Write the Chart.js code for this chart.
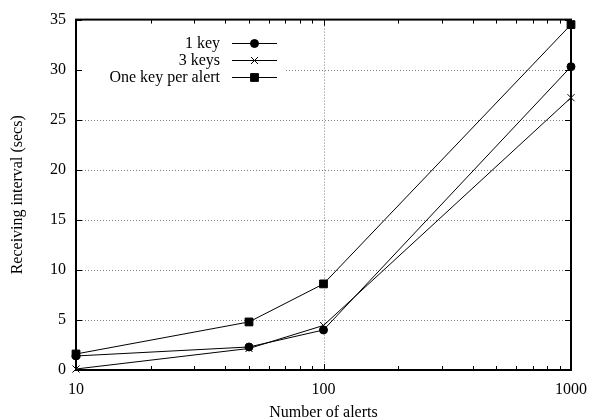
<!DOCTYPE html>
<html>
<head>
<meta charset="utf-8">
<script src="https://cdn.jsdelivr.net/npm/chart.js@4/dist/chart.umd.min.js"></script>
<style>
    html, body { margin: 0; padding: 0; background: #fff; }
    #wrap { width: 597px; height: 420px; }
</style>
</head>
<body>
<div id="wrap"><canvas id="alertChart" width="597" height="420"></canvas></div>
<script>
// Number of alerts (log x axis)
const alertCounts = [10, 50, 100, 1000];

// Receiving interval in seconds
const oneKey = [1.4, 2.3, 4.0, 30.3];
const threeKeys = [0.1, 2.15, 4.45, 27.2];
const keyPerAlert = [1.6, 4.8, 8.6, 34.5];

const seriesLabels = ['1 key', '3 keys', 'One key per alert'];
const xTickLabels = [10, 100, 1000];
const yTickLabels = [0, 5, 10, 15, 20, 25, 30, 35];

const serif = '"Liberation Serif", "DejaVu Serif", serif';

function toPoints(values) {
    return values.map((v, i) => ({ x: alertCounts[i], y: v }));
}

// Dotted grid, inner ticks, frame and gnuplot-like key
const gnuplotDeco = {
    id: 'gnuplotDeco',
    beforeDatasetsDraw(chart) {
        const { ctx, chartArea: a, scales: { x, y } } = chart;
        ctx.save();
        ctx.strokeStyle = '#808080';
        ctx.lineWidth = 1;
        ctx.setLineDash([1, 2]);
        yTickLabels.forEach(v => {
            if (v === 0 || v === 35) return;
            const py = Math.round(y.getPixelForValue(v)) + 0.5;
            ctx.beginPath();
            ctx.moveTo(a.left, py);
            ctx.lineTo(a.right, py);
            ctx.stroke();
        });
        const px = Math.round(x.getPixelForValue(100)) + 0.5;
        ctx.beginPath();
        ctx.moveTo(px, a.top);
        ctx.lineTo(px, a.bottom);
        ctx.stroke();
        ctx.restore();
    },
    afterDraw(chart) {
        const { ctx, chartArea: a, scales: { x, y } } = chart;
        ctx.save();

        // key
        ctx.fillStyle = '#fff';
        ctx.fillRect(a.left + 2, 34, 208, 52);
        ctx.font = '16px ' + serif;
        ctx.textAlign = 'right';
        ctx.textBaseline = 'middle';
        chart.data.datasets.forEach((ds, i) => {
            const ry = 43 + i * 17;
            ctx.fillStyle = '#000';
            ctx.fillText(ds.label, 220, ry + 1);
            ctx.strokeStyle = '#000';
            ctx.lineWidth = 1;
            ctx.beginPath();
            ctx.moveTo(232, ry + 0.5);
            ctx.lineTo(277, ry + 0.5);
            ctx.stroke();
            Chart.helpers.drawPoint(ctx, {
                pointStyle: ds.pointStyle,
                radius: ds.pointRadius,
                borderWidth: ds.pointBorderWidth || 1,
                rotation: 0
            }, 254.5, ry + 0.5);
        });

        // inner ticks
        ctx.strokeStyle = '#000';
        ctx.lineWidth = 1;
        const majors = [10, 100, 1000];
        const minors = [];
        [10, 100].forEach(d => { for (let k = 2; k <= 9; k++) minors.push(d * k); });
        majors.concat(minors).forEach(v => {
            const len = majors.includes(v) ? 6 : 4;
            const px = Math.round(x.getPixelForValue(v)) + 0.5;
            ctx.beginPath();
            ctx.moveTo(px, a.bottom);
            ctx.lineTo(px, a.bottom - len);
            ctx.moveTo(px, a.top);
            ctx.lineTo(px, a.top + len);
            ctx.stroke();
        });
        yTickLabels.forEach(v => {
            const py = Math.round(y.getPixelForValue(v)) + 0.5;
            ctx.beginPath();
            ctx.moveTo(a.left, py);
            ctx.lineTo(a.left + 6, py);
            ctx.moveTo(a.right, py);
            ctx.lineTo(a.right - 6, py);
            ctx.stroke();
        });

        // frame
        ctx.lineWidth = 2;
        ctx.strokeRect(a.left, a.top, a.right - a.left, a.bottom - a.top);
        ctx.restore();
    }
};

const ctx = document.getElementById('alertChart').getContext('2d');
new Chart(ctx, {
    type: 'line',
    data: {
        datasets: [
            {
                label: seriesLabels[0],
                data: toPoints(oneKey),
                pointStyle: 'circle',
                pointRadius: 4
            },
            {
                label: seriesLabels[1],
                data: toPoints(threeKeys),
                pointStyle: 'crossRot',
                pointRadius: 5
            },
            {
                label: seriesLabels[2],
                data: toPoints(keyPerAlert),
                pointStyle: 'rect',
                pointRadius: 5.5
            }
        ].map(ds => Object.assign(ds, {
            borderColor: '#000',
            backgroundColor: '#000',
            borderWidth: 1,
            pointBackgroundColor: '#000',
            pointBorderColor: '#000',
            pointBorderWidth: 1,
            tension: 0,
            fill: false,
            clip: false
        }))
    },
    options: {
        responsive: false,
        animation: false,
        devicePixelRatio: 1,
        layout: { padding: { top: 17, right: 22, left: 0, bottom: 0 } },
        plugins: {
            legend: { display: false },
            tooltip: { enabled: false }
        },
        scales: {
            x: {
                type: 'logarithmic',
                min: 10,
                max: 1000,
                afterBuildTicks: scale => {
                    scale.ticks = xTickLabels.map(v => ({ value: v }));
                },
                afterFit: scale => { scale.height = 50; },
                grid: { display: false, drawTicks: false },
                border: { display: false },
                ticks: {
                    color: '#000',
                    padding: 10,
                    maxRotation: 0,
                    font: { family: serif, size: 16 },
                    callback: v => String(v)
                },
                title: {
                    display: true,
                    text: 'Number of alerts',
                    color: '#000',
                    padding: { top: 0, bottom: -2 },
                    font: { family: serif, size: 16 }
                }
            },
            y: {
                min: 0,
                max: 35,
                afterBuildTicks: scale => {
                    scale.ticks = yTickLabels.map(v => ({ value: v }));
                },
                afterFit: scale => { scale.width = 76; },
                grid: { display: false, drawTicks: false },
                border: { display: false },
                ticks: {
                    color: '#000',
                    padding: 10,
                    font: { family: serif, size: 16 }
                },
                title: {
                    display: true,
                    text: 'Receiving interval (secs)',
                    color: '#000',
                    padding: { top: 8, bottom: 0 },
                    font: { family: serif, size: 16 }
                }
            }
        }
    },
    plugins: [gnuplotDeco]
});
</script>
</body>
</html>
